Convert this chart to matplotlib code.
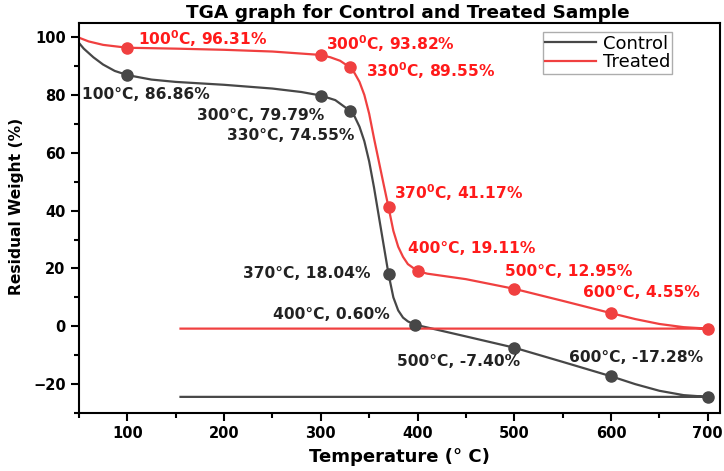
import numpy as np
import matplotlib.pyplot as plt
from matplotlib.ticker import MultipleLocator

plt.rcParams['font.family'] = ['DejaVu Sans']
plt.rcParams['mathtext.fontset'] = 'dejavusans'

# Curve points (temperature in deg C, residual weight in %)
control_temp = [50, 55, 65, 75, 87, 100, 125, 150, 200, 250, 280, 300, 315, 330,
                335, 340, 345, 350, 355, 360, 365, 370, 375, 380, 385, 390, 397,
                450, 500, 550, 600, 625, 650, 675, 700, 155]
control_wt = [98.0, 96.0, 93.0, 90.5, 88.3, 86.86, 85.3, 84.5, 83.5, 82.2, 81.0, 79.79, 78.2, 74.55,
              72.5, 69.0, 64.0, 57.0, 48.0, 38.0, 28.0, 18.04, 10.0, 5.5, 3.0, 1.7, 0.6,
              -3.5, -7.40, -12.3, -17.28, -20.0, -22.3, -23.8, -24.4, -24.4]

treated_temp = [50, 60, 75, 100, 150, 200, 250, 300, 310, 320, 330,
                335, 340, 345, 350, 355, 360, 365, 370, 375, 380, 385, 390, 400,
                410, 450, 500, 550, 600, 625, 650, 675, 700, 155]
treated_wt = [99.8, 98.5, 97.3, 96.31, 96.0, 95.6, 95.0, 93.82, 93.0, 91.8, 89.55,
              87.5, 84.5, 80.0, 73.5, 65.0, 57.0, 49.0, 41.17, 33.0, 27.5, 24.0, 21.5, 19.11,
              18.2, 16.3, 12.95, 8.8, 4.55, 2.5, 0.8, -0.3, -0.8, -0.8]

# Marked points
control_mark_t = [100, 300, 330, 370, 397, 500, 600, 700]
control_mark_w = [86.86, 79.79, 74.55, 18.04, 0.60, -7.40, -17.28, -24.4]
treated_mark_t = [100, 300, 330, 370, 400, 500, 600, 700]
treated_mark_w = [96.31, 93.82, 89.55, 41.17, 19.11, 12.95, 4.55, -0.8]

# Labels and where they sit (data coords, left edge)
sup0 = r'$^{\mathbf{0}}$'
control_labels = ['100°C, 86.86%', '300°C, 79.79%', '330°C, 74.55%', '370°C, 18.04%',
                  '400°C, 0.60%', '500°C, -7.40%', '600°C, -17.28%']
control_label_xy = [(53, 80.2), (172, 73.0), (203, 65.9), (220, 18.2),
                    (251, 4.1), (379, -12.0), (557, -10.9)]
treated_labels = ['100' + sup0 + 'C, 96.31%', '300' + sup0 + 'C, 93.82%',
                  '330' + sup0 + 'C, 89.55%', '370' + sup0 + 'C, 41.17%',
                  '400°C, 19.11%', '500°C, 12.95%', '600°C, 4.55%']
treated_label_xy = [(111, 99.3), (305, 97.6), (347, 88.3), (376, 46.3),
                    (390, 27.0), (490, 19.0), (571, 11.6)]

control_color = '#474747'
treated_color = '#f04040'

fig = plt.figure(figsize=(7.24, 4.71), dpi=100)
ax = fig.add_axes([0.109, 0.123, 0.886, 0.829])

ax.plot(control_temp, control_wt, color=control_color, lw=1.6, label='Control')
ax.plot(treated_temp, treated_wt, color=treated_color, lw=1.6, label='Treated')
ax.plot(control_mark_t, control_mark_w, 'o', color=control_color, ms=8)
ax.plot(treated_mark_t, treated_mark_w, 'o', color=treated_color, ms=8)

for txt, (x, y) in zip(control_labels, control_label_xy):
    ax.text(x, y, txt, color='#222222', fontsize=11.2, fontweight='bold', va='center', ha='left')
for txt, (x, y) in zip(treated_labels, treated_label_xy):
    ax.text(x, y, txt, color='#ff1a1a', fontsize=11.2, fontweight='bold', va='center', ha='left')

ax.set_xlim(50, 713)
ax.set_ylim(-30, 105)
ax.xaxis.set_major_locator(MultipleLocator(100))
ax.xaxis.set_minor_locator(MultipleLocator(50))
ax.yaxis.set_major_locator(MultipleLocator(20))
ax.yaxis.set_minor_locator(MultipleLocator(10))
ax.tick_params(which='major', direction='out', length=6, width=1.5, labelsize=10.5)
ax.tick_params(which='minor', direction='out', length=3.5, width=1.5)
for lab in ax.get_xticklabels() + ax.get_yticklabels():
    lab.set_fontweight('bold')
for sp in ax.spines.values():
    sp.set_linewidth(1.5)

ax.set_title('TGA graph for Control and Treated Sample', fontsize=13.3, fontweight='bold',
             pad=3, x=0.512)
ax.set_xlabel('Temperature (° C)', fontsize=13, fontweight='bold', labelpad=5)
ax.set_ylabel('Residual Weight (%)', fontsize=11.2, fontweight='bold')
ax.yaxis.set_label_coords(-0.085, 0.53)

leg = ax.legend(loc='upper right', bbox_to_anchor=(0.925, 0.975), fontsize=13,
                fancybox=False, edgecolor='#999999', handlelength=2.8,
                borderpad=0.12, labelspacing=0.05, handletextpad=0.4, borderaxespad=0)
leg.get_frame().set_linewidth(1.0)

plt.savefig('out.png', dpi=100)
